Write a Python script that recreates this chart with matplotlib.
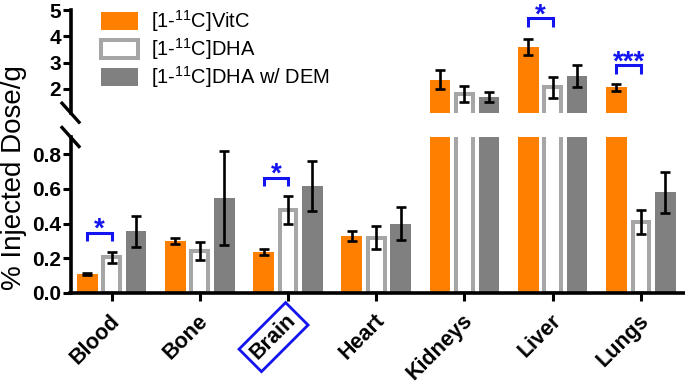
import numpy as np
import matplotlib
matplotlib.use("Agg")
import matplotlib.pyplot as plt
import matplotlib.transforms as mtransforms
from matplotlib.lines import Line2D

plt.rcParams['font.family'] = ['Liberation Sans', 'DejaVu Sans']
plt.rcParams['mathtext.fontset'] = 'custom'
plt.rcParams['mathtext.rm'] = 'Liberation Sans'

# data
organs = ["Blood", "Bone", "Brain", "Heart", "Kidneys", "Liver", "Lungs"]
vitc_mean = [0.11, 0.30, 0.236, 0.33, 2.36, 3.60, 2.06]
vitc_err = [0.006, 0.02, 0.015, 0.028, 0.36, 0.31, 0.14]
dha_mean = [0.205, 0.243, 0.48, 0.32, 1.81, 2.07, 0.41]
dha_err = [0.03, 0.053, 0.08, 0.067, 0.30, 0.40, 0.07]
dem_mean = [0.355, 0.549, 0.617, 0.40, 1.69, 2.48, 0.58]
dem_err = [0.087, 0.27, 0.143, 0.097, 0.20, 0.42, 0.117]
series_labels = ["[1-$^{\\mathregular{11}}$C]VitC", "[1-$^{\\mathregular{11}}$C]DHA",
                 "[1-$^{\\mathregular{11}}$C]DHA w/ DEM"]
low_ticks = [0.0, 0.2, 0.4, 0.6, 0.8]
high_ticks = [2, 3, 4, 5]
# significance: (organ index, stars, bracket top)
sig_low = [(0, "*", 0.349), (2, "*", 0.666)]
sig_high = [(5, "*", 4.68), (6, "***", 2.91)]

orange = "#ff8000"
light = "#a6a6a6"
dark = "#808080"
blue = "#1414f0"

W, H = 685, 384
fig = plt.figure(figsize=(W / 100, H / 100), dpi=100)
left = 70.5 / W
ax_lo = fig.add_axes([left, (H - 293) / H, 1 - left, (293 - 137) / H])
ax_hi = fig.add_axes([left, (H - 112.7) / H, 1 - left, (112.7 - 10) / H])

x = np.arange(len(organs))
off = 0.277
bw = 0.235
px = 1 / 88.33

for ax in (ax_lo, ax_hi):
    ekw = dict(ecolor="black", elinewidth=1.9, capsize=3.8, capthick=1.9)
    ax.bar(x - off, vitc_mean, bw, color=orange, yerr=vitc_err, error_kw=ekw,
           label=series_labels[0], zorder=2)
    ax.bar(x, dha_mean, bw - 4 * px, color="white", edgecolor=light, linewidth=2.9,
           yerr=dha_err, error_kw=ekw, label=series_labels[1], zorder=2)
    ax.bar(x + off, dem_mean, bw, color=dark, yerr=dem_err, error_kw=ekw,
           label=series_labels[2], zorder=2)
    ax.set_xlim(-0.466, 6.5)
    for s in ("top", "right"):
        ax.spines[s].set_visible(False)
    ax.spines["left"].set_linewidth(2.6)
    ax.spines["bottom"].set_linewidth(2.6)
    ax.tick_params(width=2.2, length=6, pad=1, labelsize=15)

ax_lo.set_ylim(0, 0.9)
ax_lo.set_yticks(low_ticks)
ax_lo.set_yticklabels(["%.1f" % v for v in low_ticks], fontweight="bold")
ax_lo.set_xticks(x)
ax_lo.set_xticklabels(organs, rotation=45, ha="right", va="center",
                      rotation_mode="anchor", fontweight="bold", fontsize=15.5)
ax_lo.tick_params(axis="x", pad=11)
shift = mtransforms.ScaledTranslation(5 / 100, -1 / 100, fig.dpi_scale_trans)
for lab in ax_lo.get_xticklabels():
    lab.set_transform(lab.get_transform() + shift)
brain = ax_lo.get_xticklabels()[2]
brain.set_bbox(dict(boxstyle="square,pad=0.25", fc="none", ec=blue, lw=2))

ax_hi.set_ylim(1.1, 5)
ax_hi.set_yticks(high_ticks)
ax_hi.set_yticklabels([str(v) for v in high_ticks], fontweight="bold")
ax_hi.spines["bottom"].set_visible(False)
ax_hi.set_xticks([])


def bracket(ax, i, stars, top, drop):
    ax.plot([i - off, i - off, i, i], [top - drop, top, top, top - drop], color=blue,
            lw=2.2, solid_joinstyle="miter", solid_capstyle="butt", clip_on=False, zorder=3)
    ax.annotate(stars, xy=(i - off / 2, top), xytext=(0, -3), textcoords="offset points",
                ha="center", va="baseline", color=blue, fontsize=20, fontweight="bold",
                annotation_clip=False)


for i, s, top in sig_low:
    bracket(ax_lo, i, s, top, 0.05)
for i, s, top in sig_high:
    bracket(ax_hi, i, s, top, 0.33)

ax_hi.legend(loc="upper left", bbox_to_anchor=(0.05, 1.02), frameon=False, fontsize=14.5,
             handlelength=1.85, handleheight=1.0, labelspacing=0.1, handletextpad=0.6,
             borderpad=0, borderaxespad=0)

# axis break marks
dx, dy = 8.5 / W, 9.5 / H
for yc in (ax_hi.get_position().y0, ax_lo.get_position().y1):
    fig.add_artist(Line2D([left - dx, left + dx], [yc + dy, yc - dy], color="black",
                          lw=2.4, transform=fig.transFigure))

fig.text(14 / W, (H - 178) / H, "% Injected Dose/g", rotation=90, ha="center", va="center",
         fontsize=20)

fig.savefig("out.png", dpi=100)
